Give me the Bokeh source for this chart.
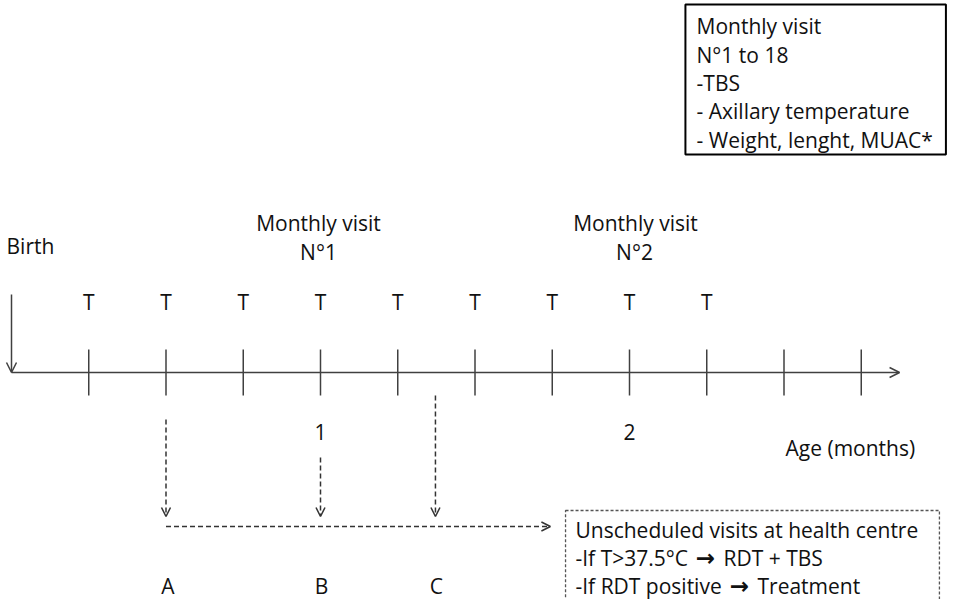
from bokeh.plotting import figure
from bokeh.models import ColumnDataSource, Range1d, Arrow, OpenHead
from bokeh.embed import file_html
from bokeh.resources import INLINE
from bokeh.core.properties import value

FONT = "Open Sans"
FS = "21px"
INK = "#111111"
LINE = "#404040"
DASH = "#333333"

# ---- data (x in months of age) ----
tick_months = [0.25, 0.5, 0.75, 1.0, 1.25, 1.5, 1.75, 2.0, 2.25, 2.5, 2.75]
t_months = [0.25, 0.5, 0.75, 1.0, 1.25, 1.5, 1.75, 2.0, 2.25]
t_labels = ["T"] * len(t_months)
visit_months = [1, 2]
visit_titles = ["Monthly visit", "Monthly visit"]
visit_numbers = ["N°1", "N°2"]
month_labels = ["1", "2"]
axis_end_month = 2.874
unsched_labels = ["A", "B", "C"]
unsched_months = [0.5, 1.0, 1.372]
unsched_arrow_end = 1.744
box_lines = ["Monthly visit", "N°1 to 18", "-TBS", "- Axillary temperature",
             "- Weight, lenght, MUAC*"]
unsched_title = "Unscheduled visits at health centre"
rule_conditions = ["-If T>37.5°C", "-If RDT positive"]
rule_actions = ["RDT + TBS", "Treatment"]

# ---- layout (vertical positions in px from top, horizontal in months) ----
PX_PER_MONTH = 309
Y_AXIS = 380
Y_TICK0, Y_TICK1 = 357, 403
Y_T = 309
Y_VISIT1, Y_VISIT2 = 230, 259
Y_MONTH = 439
Y_ABC = 593
Y_HDASH = 534
Y_HEAD = 524
unsched_starts = [427, 465, 403]
box_ys = [33, 62, 90, 118, 147]
rule_ys = [565, 593]

p = figure(width=947, height=599, output_backend="svg", toolbar_location=None,
           x_range=Range1d(-11 / PX_PER_MONTH, 936 / PX_PER_MONTH),
           y_range=Range1d(607, 8), min_border=0, tools="")
p.axis.visible = False
p.grid.visible = False
p.outline_line_color = None
p.background_fill_color = "white"


def txt(xs, ys, labels, align="center", xoff=None, font=FONT, size=FS,
        style="normal"):
    data = dict(x=xs, y=ys, text=labels,
                xo=xoff if xoff is not None else [0] * len(xs))
    src = ColumnDataSource(data)
    p.text(x="x", y="y", text="text", x_offset="xo", source=src,
           text_font=value(font), text_font_size=size, text_align=align,
           text_baseline="middle", text_color=INK, text_font_style=style)


# main time axis with arrow
p.add_layout(Arrow(end=OpenHead(size=10, line_width=1.5, line_color=LINE),
                   x_start=0, y_start=Y_AXIS, x_end=axis_end_month, y_end=Y_AXIS,
                   line_width=1.5, line_color=LINE))
# birth arrow
p.add_layout(Arrow(end=OpenHead(size=10, line_width=1.5, line_color=LINE),
                   x_start=0, y_start=302, x_end=0, y_end=Y_AXIS,
                   line_width=1.5, line_color=LINE))
# ticks
p.segment(x0=tick_months, y0=[Y_TICK0] * len(tick_months), x1=tick_months,
          y1=[Y_TICK1] * len(tick_months), line_width=1.5, line_color=LINE)

# texts on the axis
txt([-0.016], [253], ["Birth"], align="left")
txt(t_months, [Y_T] * len(t_months), t_labels)
txt(visit_months, [Y_VISIT1] * 2, visit_titles, xoff=[-2, 6])
txt(visit_months, [Y_VISIT2] * 2, visit_numbers, xoff=[-2, 5])
txt(visit_months, [Y_MONTH] * 2, month_labels)
txt([2.505], [455], ["Age (months)"], align="left")

# unscheduled visits arrows
for m, ys in zip(unsched_months, unsched_starts):
    p.add_layout(Arrow(end=OpenHead(size=9, line_width=1.5, line_color=DASH),
                       x_start=m, y_start=ys, x_end=m, y_end=Y_HEAD,
                       line_width=1.5, line_color=DASH, line_dash="5 3"))
p.add_layout(Arrow(end=OpenHead(size=9, line_width=1.5, line_color=DASH),
                   x_start=unsched_months[0], y_start=Y_HDASH, x_end=unsched_arrow_end,
                   y_end=Y_HDASH, line_width=1.5, line_color=DASH, line_dash="5 3"))
txt(unsched_months, [Y_ABC] * 3, unsched_labels, xoff=[2, 1, 1])

# top-right solid box
p.quad(left=[2.181], right=[3.024], top=[12], bottom=[162], fill_color=None,
       line_color="black", line_width=2)
txt([2.217] * len(box_lines), box_ys, box_lines, align="left")

# bottom dashed box
BOX_X = 1.8252
p.quad(left=[1.793], right=[3.003], top=[518], bottom=[640], fill_color=None,
       line_color="#555555", line_width=1.3, line_dash="3 2")
txt([BOX_X], [537], [unsched_title], align="left")
txt([BOX_X] * 2, rule_ys, rule_conditions, align="left")
txt([BOX_X] * 2, rule_ys, ["\u2192", "\u2192"], align="center", xoff=[130, 164],
    font="DejaVu Sans", size="23px", style="bold")
txt([BOX_X] * 2, rule_ys, rule_actions, align="left", xoff=[148, 182])

open("out.html", "w").write(file_html(p, INLINE))
